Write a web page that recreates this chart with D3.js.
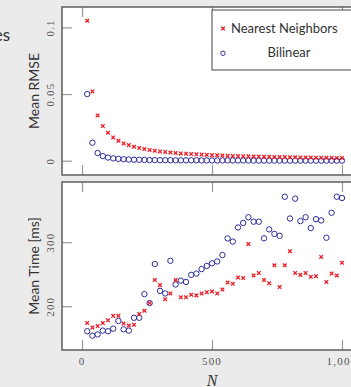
<!DOCTYPE html>
<html>
<head>
<meta charset="utf-8">
<script src="https://cdn.jsdelivr.net/npm/d3@7"></script>
<style>
  html, body { margin: 0; padding: 0; background: #ebebeb; overflow: hidden; }
  svg { display: block; }
  .num { font-family: "Liberation Serif", serif; font-size: 11px; fill: #555; letter-spacing: 1.2px; }
  .lbl { font-family: Lato, "Open Sans", sans-serif; font-size: 14px; fill: #333; }
</style>
</head>
<body>
<script>
'use strict';

// N = 20, 40, ... 1000
const sizes = [20, 40, 60, 80, 100, 120, 140, 160, 180, 200,
  220, 240, 260, 280, 300, 320, 340, 360, 380, 400,
  420, 440, 460, 480, 500, 520, 540, 560, 580, 600,
  620, 640, 660, 680, 700, 720, 740, 760, 780, 800,
  820, 840, 860, 880, 900, 920, 940, 960, 980, 1000];

const rmseNearest = [0.105, 0.052, 0.034, 0.026, 0.021, 0.0175, 0.015, 0.013, 0.0117, 0.0105,
  0.0095, 0.0088, 0.0081, 0.0075, 0.007, 0.0066, 0.0062, 0.0058, 0.0055, 0.0053,
  0.005, 0.0048, 0.0046, 0.0044, 0.0042, 0.0041, 0.0039, 0.0038, 0.0036, 0.0035,
  0.0034, 0.0033, 0.0032, 0.0031, 0.003, 0.0029, 0.0028, 0.0028, 0.0027, 0.0026,
  0.0026, 0.0025, 0.0024, 0.0024, 0.0023, 0.0023, 0.0022, 0.0022, 0.0021, 0.0021];

const rmseBilinear = [0.050, 0.0135, 0.0058, 0.0035, 0.0024, 0.0018, 0.0014, 0.0011, 0.0009, 0.0008,
  0.0007, 0.0006, 0.0005, 0.0005, 0.0004, 0.0004, 0.0004, 0.0003, 0.0003, 0.0003,
  0.0003, 0.0003, 0.0002, 0.0002, 0.0002, 0.0002, 0.0002, 0.0002, 0.0002, 0.0002,
  0.0002, 0.0002, 0.0001, 0.0001, 0.0001, 0.0001, 0.0001, 0.0001, 0.0001, 0.0001,
  0.0001, 0.0001, 0.0001, 0.0001, 0.0001, 0.0001, 0.0001, 0.0001, 0.0001, 0.0001];

const timeNearest = [174, 167, 169, 174, 178, 185, 185, 173, 170, 171,
  188, 193, 205, 241, 233, 211, 220, 241, 214, 214,
  218, 217, 220, 222, 223, 220, 226, 237, 235, 245,
  244, 297, 248, 252, 241, 236, 264, 230, 264, 286,
  252, 249, 252, 246, 247, 277, 238, 251, 248, 268];

const timeBilinear = [161, 154, 156, 162, 161, 165, 177, 164, 162, 182,
  182, 219, 205, 266, 224, 220, 271, 234, 240, 238,
  249, 251, 258, 263, 267, 270, 280, 306, 301, 323,
  330, 339, 332, 332, 306, 320, 313, 310, 371, 337,
  368, 333, 339, 322, 336, 334, 307, 346, 371, 369];

const xTicks = [0, 500, 1000];
const rmseTicks = [0, 0.05, 0.1];
const rmseTickLabels = ['0', '0.05', '0.1'];
const timeTicks = [200, 300];
const seriesNames = ['Nearest Neighbors', 'Bilinear'];

const W = 351, H = 387;
const RED = '#ee1c25';
const BLUE = '#2e2e99';

let svg = d3.select('body').append('svg')
  .attr('width', W)
  .attr('height', H);

let x = d3.scaleLinear().domain([-77, 1077]).range([62, 362]);
let yTop = d3.scaleLinear().domain([-0.0107, 0.1153]).range([175, 7]);
let yBot = d3.scaleLinear().domain([131.7, 394]).range([350, 182]);

// cut-off title fragment on the left
svg.append('text')
  .attr('class', 'lbl')
  .attr('x', 10)
  .attr('y', 41)
  .attr('text-anchor', 'end')
  .style('font-size', '17px')
  .text('es');

function panel(y, ticks, tickLabels, title, series) {
  let g = svg.append('g');
  g.append('rect')
    .attr('x', x.range()[0]).attr('y', y.range()[1])
    .attr('width', x.range()[1] - x.range()[0])
    .attr('height', y.range()[0] - y.range()[1])
    .attr('fill', '#fff');

  // inward x ticks, top and bottom
  let xb = g.append('g')
    .attr('transform', 'translate(0,' + y.range()[0] + ')')
    .call(d3.axisBottom(x).tickValues(xTicks).tickSize(-10).tickFormat(''));
  let xt = g.append('g')
    .attr('transform', 'translate(0,' + y.range()[1] + ')')
    .call(d3.axisTop(x).tickValues(xTicks).tickSize(-10).tickFormat(''));
  let yl = g.append('g')
    .attr('transform', 'translate(' + x.range()[0] + ',0)')
    .call(d3.axisLeft(y).tickValues(ticks).tickSize(-10)
      .tickFormat(function(d, i) { return tickLabels[i]; }));

  [xb, xt, yl].forEach(function(a) {
    a.select('.domain').remove();
    a.selectAll('.tick line').attr('stroke', '#9a9a9a').attr('stroke-width', 1.2);
  });
  yl.selectAll('.tick text')
    .attr('class', 'num')
    .attr('x', null).attr('dy', null)
    .attr('fill', null)
    .attr('font-family', null).attr('font-size', null)
    .attr('text-anchor', 'middle')
    .attr('transform', 'translate(-8,0) rotate(-90)');
  yl.attr('font-family', null).attr('font-size', null);

  series.forEach(function(s) {
    let pts = g.append('g');
    pts.selectAll('.pt')
      .data(sizes)
      .enter().append('path')
        .attr('class', 'pt')
        .attr('transform', function(d, i) {
          return 'translate(' + x(d) + ',' + y(s.values[i]) + ')';
        })
        .attr('d', s.marker)
        .attr('fill', 'none')
        .attr('stroke', s.color)
        .attr('stroke-width', s.width);
  });

  g.append('rect')
    .attr('x', x.range()[0]).attr('y', y.range()[1])
    .attr('width', x.range()[1] - x.range()[0])
    .attr('height', y.range()[0] - y.range()[1])
    .attr('fill', 'none')
    .attr('stroke', '#555')
    .attr('stroke-width', 1.4);

  let cy = (y.range()[0] + y.range()[1]) / 2;
  g.append('text')
    .attr('class', 'lbl')
    .attr('text-anchor', 'middle')
    .attr('transform', 'translate(39,' + cy + ') rotate(-90)')
    .text(title);
  return g;
}

const crossPath = 'M-1.8,-1.8L1.8,1.8M-1.8,1.8L1.8,-1.8';
const circlePath = d3.symbol().type(d3.symbolCircle).size(Math.PI * 2.7 * 2.7)();

panel(yTop, rmseTicks, rmseTickLabels, 'Mean RMSE', [
  {values: rmseBilinear, marker: circlePath, color: BLUE, width: 1},
  {values: rmseNearest, marker: crossPath, color: RED, width: 1.3}
]);

panel(yBot, timeTicks, timeTicks.map(String), 'Mean Time [ms]', [
  {values: timeBilinear, marker: circlePath, color: BLUE, width: 1},
  {values: timeNearest, marker: crossPath, color: RED, width: 1.3}
]);

// x tick labels under the bottom panel
svg.append('g').selectAll('text')
  .data(xTicks)
  .enter().append('text')
    .attr('class', 'num')
    .attr('x', function(d) { return x(d); })
    .attr('y', 365)
    .attr('text-anchor', 'middle')
    .text(d3.format(','));

svg.append('text')
  .attr('x', x(500))
  .attr('y', 386)
  .attr('text-anchor', 'middle')
  .style('font-family', '"Liberation Serif", serif')
  .style('font-style', 'italic')
  .style('font-size', '16px')
  .style('fill', '#333')
  .text('N');

// legend
let legend = svg.append('g');
legend.append('rect')
  .attr('x', 212).attr('y', 10)
  .attr('width', 160).attr('height', 60)
  .attr('fill', '#fff')
  .attr('stroke', '#444')
  .attr('stroke-width', 1);
legend.append('path')
  .attr('transform', 'translate(223,28.5)')
  .attr('d', crossPath)
  .attr('fill', 'none').attr('stroke', RED).attr('stroke-width', 1.3);
legend.append('path')
  .attr('transform', 'translate(223,53.3)')
  .attr('d', d3.symbol().type(d3.symbolCircle).size(Math.PI * 2.2 * 2.2)())
  .attr('fill', 'none').attr('stroke', BLUE).attr('stroke-width', 1);
legend.append('text')
  .attr('class', 'lbl')
  .attr('x', 231).attr('y', 32.5)
  .style('font-size', '13px')
  .text(seriesNames[0]);
legend.append('text')
  .attr('class', 'lbl')
  .attr('x', 289).attr('y', 57)
  .attr('text-anchor', 'middle')
  .style('font-size', '13px')
  .text(seriesNames[1]);
</script>
</body>
</html>
